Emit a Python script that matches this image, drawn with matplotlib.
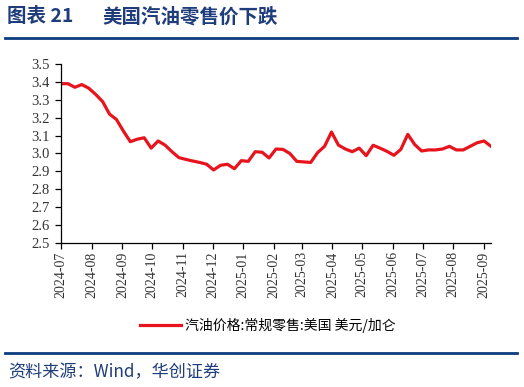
import matplotlib
matplotlib.use("Agg")
import matplotlib.pyplot as plt
import matplotlib.dates as mdates
from matplotlib.lines import Line2D
import pandas as pd
import numpy as np

plt.rcParams['font.family'] = ['Noto Sans CJK SC', 'DejaVu Sans']

start_date = "2024-07-01"
prices = [3.39, 3.39, 3.37, 3.385, 3.365, 3.33, 3.29, 3.22, 3.19, 3.125,
          3.066, 3.08, 3.088, 3.03, 3.07, 3.047, 3.01, 2.977, 2.967, 2.958,
          2.95, 2.94, 2.908, 2.934, 2.94, 2.915, 2.96, 2.956, 3.01, 3.007,
          2.975, 3.025, 3.023, 3.0, 2.956, 2.953, 2.95, 3.005, 3.04, 3.12,
          3.047, 3.025, 3.01, 3.03, 2.988, 3.046, 3.03, 3.012, 2.99, 3.023,
          3.107, 3.05, 3.014, 3.02, 3.02, 3.025, 3.04, 3.02, 3.02, 3.04,
          3.06, 3.07, 3.04]
dates = pd.date_range(start_date, periods=len(prices), freq="7D")
y_ticks = [2.5, 2.6, 2.7, 2.8, 2.9, 3.0, 3.1, 3.2, 3.3, 3.4, 3.5]
series_label = "汽油价格:常规零售:美国 美元/加仑"
title_num = "图表 21"
title_text = "美国汽油零售价下跌"
source_text = "资料来源：Wind，华创证券"

W, H = 524, 387
fig = plt.figure(figsize=(W/100, H/100), dpi=100)
ax = fig.add_axes([61/W, 1-243/H, (491-61)/W, (243-64)/H])

red = "#e8141d"
ax.plot(dates, prices, color=red, lw=2.3, solid_joinstyle='round')
ax.set_ylim(2.5, 3.5)
ax.set_yticks(y_ticks)
ax.set_yticklabels([f"{v:.1f}" for v in y_ticks], fontfamily='Liberation Serif', fontsize=10.5, color='#333333')
ax.set_xlim(dates[0], dates[-1])
ax.xaxis.set_major_locator(mdates.MonthLocator())
ax.xaxis.set_major_formatter(mdates.DateFormatter("%Y-%m"))
for lab in ax.get_xticklabels():
    lab.set_rotation(90)
    lab.set_fontfamily('Liberation Serif')
    lab.set_fontsize(10)
    lab.set_color('#333333')
for s in ['top', 'right']:
    ax.spines[s].set_visible(False)
for s in ['left', 'bottom']:
    ax.spines[s].set_linewidth(0.9)
    ax.spines[s].set_color('black')
ax.tick_params(axis='both', direction='out', length=4, width=0.9, pad=2)
ax.tick_params(axis='y', pad=4)

navy = "#1f3d7a"
fig.text(7/W, 1-17/H, title_num, fontsize=14, fontweight='bold', color=navy, va='center', ha='left')
fig.text(102/W, 1-17/H, title_text, fontsize=14, fontweight='bold', color=navy, va='center', ha='left')
fig.add_artist(Line2D([5/W, 517/W], [1-38/H, 1-38/H], color="#0b3d7e", lw=2))
fig.add_artist(Line2D([5/W, 517/W], [1-353/H, 1-353/H], color="#0b3d7e", lw=2))
fig.text(8/W, 1-372/H, source_text, fontsize=12.3, color=navy, va='center', ha='left', style='italic')

leg_handle = Line2D([], [], color=red, lw=2.3)
fig.legend([leg_handle], [series_label], loc='center', bbox_to_anchor=(268/W, 1-325/H),
           frameon=False, handlelength=2.9, handletextpad=0.3, prop={'size': 10})

fig.savefig("out.png", dpi=100)
